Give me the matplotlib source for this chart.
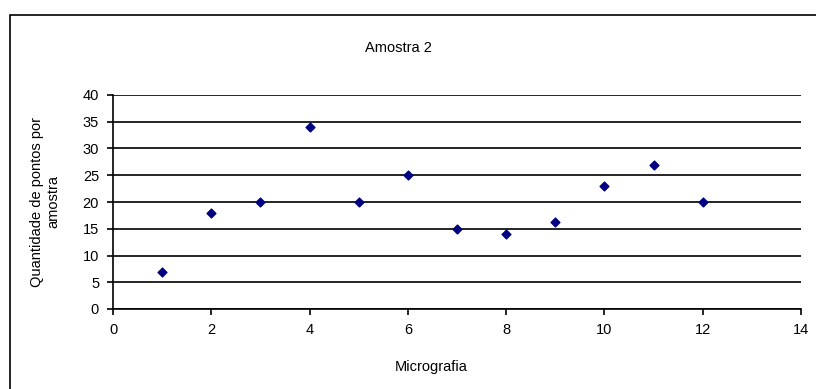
import matplotlib
matplotlib.use("Agg")
import matplotlib.pyplot as plt
from matplotlib.patches import Rectangle

plt.rcParams['font.family'] = ['Liberation Sans', 'DejaVu Sans']

micrografia = [1, 2, 3, 4, 5, 6, 7, 8, 9, 10, 11, 12]
pontos = [7, 18, 20, 34, 20, 25, 15, 14, 16.2, 23, 27, 20]
x_ticks = [0, 2, 4, 6, 8, 10, 12, 14]
y_ticks = [0, 5, 10, 15, 20, 25, 30, 35, 40]

fig = plt.figure(figsize=(8.16, 3.89), dpi=100)
fig.patch.set_facecolor("white")

# outer chart border (Excel-style)
fig.patches.append(Rectangle((10 / 816, -0.1), 1.2, 1.1 - 15 / 389,
                             transform=fig.transFigure, fill=False,
                             edgecolor="black", linewidth=1.2))

ax = fig.add_axes([113 / 816, 80 / 389, 688 / 816, 214 / 389])
ax.scatter(micrografia, pontos, marker="D", s=20, color="#000080", zorder=3)

ax.set_xlim(0, 14)
ax.set_ylim(0, 40)
ax.set_xticks(x_ticks)
ax.set_yticks(y_ticks)
ax.yaxis.grid(True, color="black", linewidth=1.2)
ax.set_axisbelow(True)
for side in ["top", "right"]:
    ax.spines[side].set_visible(False)
for side in ["left", "bottom"]:
    ax.spines[side].set_linewidth(1.2)
ax.tick_params(direction="out", length=4, width=1.2, labelsize=10.5, pad=6)

fig.text(398 / 816, 1 - 48 / 389, "Amostra 2", fontsize=10.5,
         ha="center", va="center")
fig.text(431 / 816, 1 - 367 / 389, "Micrografia", fontsize=10.5,
         ha="center", va="center")
ax.set_ylabel("Quantidade de pontos por\namostra", fontsize=10.5, labelpad=16)

fig.savefig("out.png", dpi=100)
